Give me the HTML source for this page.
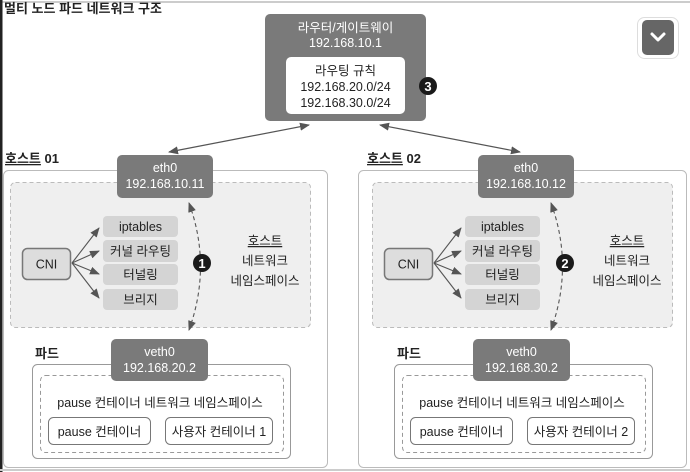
<!DOCTYPE html>
<html><head><meta charset="utf-8"><style>
html,body{margin:0;padding:0;background:#fff;}
svg{display:block;font-family:"Liberation Sans","Noto Sans CJK KR",sans-serif;}
</style></head><body>
<svg width="690" height="472" viewBox="0 0 690 472" xmlns="http://www.w3.org/2000/svg">
<defs>
<marker id="ah" markerWidth="10" markerHeight="8" refX="9" refY="4" orient="auto-start-reverse" markerUnits="userSpaceOnUse">
<path d="M0,0 L10,4 L0,8 Z" fill="#555"/></marker>
</defs>
<rect x="0" y="0" width="690" height="472" fill="#fff"/>
<line x1="0" y1="2" x2="690" y2="2" stroke="#ccc" stroke-width="2"/>
<rect x="0" y="0" width="2.5" height="472" fill="#222"/>
<line x1="0" y1="470" x2="690" y2="470" stroke="#ccc" stroke-width="2"/>
<text x="4" y="13" font-size="13" font-weight="bold" fill="#222">멀티 노드 파드 네트워크 구조</text>

<rect x="637.5" y="17.5" width="41" height="41" rx="7" fill="#fff" stroke="#ddd"/>
<rect x="642" y="20" width="32" height="35" rx="5" fill="#666"/>
<path d="M652,34 L658,40 L664,34" fill="none" stroke="#fff" stroke-width="3" stroke-linecap="round" stroke-linejoin="round"/>

<rect x="265" y="14" width="161" height="107" rx="5" fill="#7a7a7a"/>
<text x="345.5" y="32" font-size="12.5" fill="#fff" text-anchor="middle">라우터/게이트웨이</text>
<text x="345.5" y="47" font-size="12.5" fill="#fff" text-anchor="middle">192.168.10.1</text>
<rect x="286" y="57" width="119" height="57" rx="5" fill="#fff"/>
<text x="345.5" y="75" font-size="12.5" fill="#222" text-anchor="middle">라우팅 규칙</text>
<text x="345.5" y="91" font-size="12.5" fill="#222" text-anchor="middle">192.168.20.0/24</text>
<text x="345.5" y="107" font-size="12.5" fill="#222" text-anchor="middle">192.168.30.0/24</text>
<circle cx="428" cy="86" r="9" fill="#1a1a1a"/>
<text x="428" y="91" font-size="13" font-weight="bold" fill="#fff" text-anchor="middle">3</text>

<line x1="309" y1="125" x2="169" y2="152" stroke="#555" stroke-width="1.2" marker-start="url(#ah)" marker-end="url(#ah)"/>
<line x1="380" y1="125" x2="520" y2="152" stroke="#555" stroke-width="1.2" marker-start="url(#ah)" marker-end="url(#ah)"/>

<g>
<rect x="3.5" y="170.5" width="324" height="297" rx="5" fill="#fff" stroke="#bbb"/>
<rect x="10.5" y="182.5" width="300" height="145" rx="5" fill="#efefef" stroke="#bbb" stroke-dasharray="4,3"/>
<rect x="117" y="155" width="96" height="43" rx="5" fill="#7a7a7a"/>
<text x="165" y="172" font-size="12.5" fill="#fff" text-anchor="middle">eth0</text>
<text x="165" y="188" font-size="12.5" fill="#fff" text-anchor="middle">192.168.10.11</text>
<rect x="22.5" y="248.5" width="48" height="31" rx="5" fill="#ddd" stroke="#777" stroke-width="1.5"/>
<text x="46.5" y="268.5" font-size="12.5" fill="#222" text-anchor="middle">CNI</text>
<g fill="#d4d4d4">
<rect x="103" y="216" width="75" height="21" rx="4"/>
<rect x="103" y="240" width="75" height="22" rx="4"/>
<rect x="103" y="264" width="75" height="21" rx="4"/>
<rect x="103" y="289" width="75" height="21" rx="4"/>
</g>
<g font-size="12.5" fill="#222" text-anchor="middle">
<text x="140.5" y="231">iptables</text>
<text x="140.5" y="255.5">커널 라우팅</text>
<text x="140.5" y="279">터널링</text>
<text x="140.5" y="304">브리지</text>
</g>
<g stroke="#555" stroke-width="1.1">
<line x1="72" y1="263" x2="99" y2="228" marker-end="url(#ah)"/>
<line x1="72" y1="263" x2="99" y2="251" marker-end="url(#ah)"/>
<line x1="72" y1="263" x2="99" y2="274" marker-end="url(#ah)"/>
<line x1="72" y1="263" x2="99" y2="298" marker-end="url(#ah)"/>
</g>
<path d="M189,203 Q212,266 189,330" fill="none" stroke="#555" stroke-width="1.1" stroke-dasharray="4,3" marker-start="url(#ah)" marker-end="url(#ah)"/>
<circle cx="202" cy="263" r="9" fill="#1a1a1a"/>
<text x="202" y="268" font-size="13" font-weight="bold" fill="#fff" text-anchor="middle">1</text>
<g font-size="12.5" fill="#222" text-anchor="middle">
<text x="265" y="245" text-decoration="underline">호스트</text>
<text x="265" y="265">네트워크</text>
<text x="265" y="285">네임스페이스</text>
</g>
<text x="5" y="163" font-size="13" font-weight="bold" fill="#222"><tspan text-decoration="underline">호스트</tspan> 01</text>
<text x="35" y="358" font-size="13" font-weight="bold" fill="#222">파드</text>
<rect x="32.5" y="364.5" width="258" height="94" rx="5" fill="#fff" stroke="#999"/>
<rect x="40.5" y="375.5" width="243" height="77" rx="5" fill="#fff" stroke="#999" stroke-dasharray="4,3"/>
<rect x="111" y="339" width="97" height="42" rx="5" fill="#7a7a7a"/>
<text x="159.5" y="356" font-size="12.5" fill="#fff" text-anchor="middle">veth0</text>
<text x="159.5" y="372" font-size="12.5" fill="#fff" text-anchor="middle">192.168.20.2</text>
<text x="160" y="407" font-size="12.5" fill="#222" text-anchor="middle">pause 컨테이너 네트워크 네임스페이스</text>
<rect x="48.5" y="417.5" width="102" height="27" rx="5" fill="#fff" stroke="#777"/>
<text x="99.5" y="436" font-size="12.5" fill="#222" text-anchor="middle">pause 컨테이너</text>
<rect x="165.5" y="417.5" width="107" height="27" rx="5" fill="#fff" stroke="#777"/>
<text x="219" y="436" font-size="12.5" fill="#222" text-anchor="middle">사용자 컨테이너 1</text>
</g>

<g transform="translate(362,0)">
<rect x="-3.5" y="170.5" width="328" height="297" rx="5" fill="#fff" stroke="#bbb"/>
<rect x="10.5" y="182.5" width="300" height="145" rx="5" fill="#efefef" stroke="#bbb" stroke-dasharray="4,3"/>
<rect x="116" y="155" width="96" height="43" rx="5" fill="#7a7a7a"/>
<text x="164" y="172" font-size="12.5" fill="#fff" text-anchor="middle">eth0</text>
<text x="164" y="188" font-size="12.5" fill="#fff" text-anchor="middle">192.168.10.12</text>
<rect x="22.5" y="248.5" width="48" height="31" rx="5" fill="#ddd" stroke="#777" stroke-width="1.5"/>
<text x="46.5" y="268.5" font-size="12.5" fill="#222" text-anchor="middle">CNI</text>
<g fill="#d4d4d4">
<rect x="103" y="216" width="75" height="21" rx="4"/>
<rect x="103" y="240" width="75" height="22" rx="4"/>
<rect x="103" y="264" width="75" height="21" rx="4"/>
<rect x="103" y="289" width="75" height="21" rx="4"/>
</g>
<g font-size="12.5" fill="#222" text-anchor="middle">
<text x="140.5" y="231">iptables</text>
<text x="140.5" y="255.5">커널 라우팅</text>
<text x="140.5" y="279">터널링</text>
<text x="140.5" y="304">브리지</text>
</g>
<g stroke="#555" stroke-width="1.1">
<line x1="72" y1="263" x2="99" y2="228" marker-end="url(#ah)"/>
<line x1="72" y1="263" x2="99" y2="251" marker-end="url(#ah)"/>
<line x1="72" y1="263" x2="99" y2="274" marker-end="url(#ah)"/>
<line x1="72" y1="263" x2="99" y2="298" marker-end="url(#ah)"/>
</g>
<path d="M189,203 Q212,266 189,330" fill="none" stroke="#555" stroke-width="1.1" stroke-dasharray="4,3" marker-start="url(#ah)" marker-end="url(#ah)"/>
<circle cx="203" cy="263" r="9" fill="#1a1a1a"/>
<text x="203" y="268" font-size="13" font-weight="bold" fill="#fff" text-anchor="middle">2</text>
<g font-size="12.5" fill="#222" text-anchor="middle">
<text x="265" y="245" text-decoration="underline">호스트</text>
<text x="265" y="265">네트워크</text>
<text x="265" y="285">네임스페이스</text>
</g>
<text x="5" y="163" font-size="13" font-weight="bold" fill="#222"><tspan text-decoration="underline">호스트</tspan> 02</text>
<text x="35" y="358" font-size="13" font-weight="bold" fill="#222">파드</text>
<rect x="32.5" y="364.5" width="258" height="94" rx="5" fill="#fff" stroke="#999"/>
<rect x="40.5" y="375.5" width="243" height="77" rx="5" fill="#fff" stroke="#999" stroke-dasharray="4,3"/>
<rect x="111" y="339" width="97" height="42" rx="5" fill="#7a7a7a"/>
<text x="159.5" y="356" font-size="12.5" fill="#fff" text-anchor="middle">veth0</text>
<text x="159.5" y="372" font-size="12.5" fill="#fff" text-anchor="middle">192.168.30.2</text>
<text x="160" y="407" font-size="12.5" fill="#222" text-anchor="middle">pause 컨테이너 네트워크 네임스페이스</text>
<rect x="48.5" y="417.5" width="102" height="27" rx="5" fill="#fff" stroke="#777"/>
<text x="99.5" y="436" font-size="12.5" fill="#222" text-anchor="middle">pause 컨테이너</text>
<rect x="165.5" y="417.5" width="107" height="27" rx="5" fill="#fff" stroke="#777"/>
<text x="219" y="436" font-size="12.5" fill="#222" text-anchor="middle">사용자 컨테이너 2</text>
</g>
</svg>
</body></html>
